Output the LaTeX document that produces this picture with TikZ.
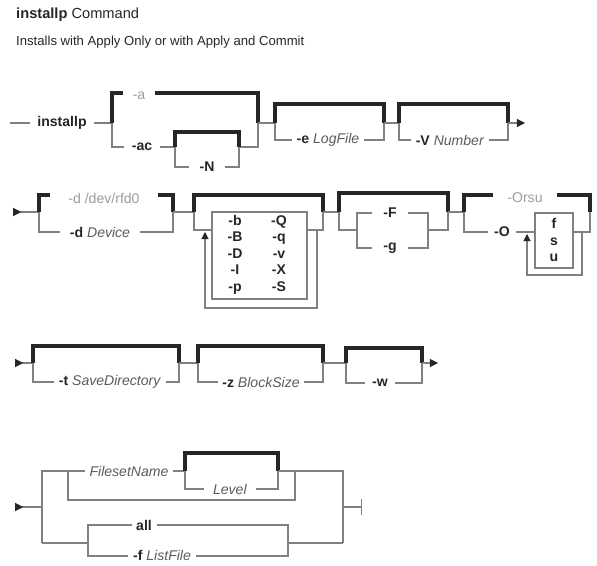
\documentclass[tikz,border=0pt]{standalone}
\usepackage{fontspec}
\setmainfont{Liberation Sans}
\usetikzlibrary{arrows.meta}
\definecolor{Ink}{HTML}{262626}
\definecolor{Rail}{HTML}{808080}
\definecolor{Hint}{HTML}{9C9C9C}
\definecolor{Arg}{HTML}{5C5C5C}
\newcommand{\flg}[1]{\textbf{#1}}
\newcommand{\prm}[1]{\textcolor{Arg}{\textit{#1}}}
\tikzset{
  rail/.style={draw=Rail, line width=0.9pt},
  heavy/.style={draw=Ink, line width=2.6pt, line join=miter},
  lbl/.style={fill=white, inner xsep=4pt, inner ysep=1pt, text=Ink,
    font=\fontsize{12}{14}\selectfont},
  hint/.style={lbl, text=Hint},
  flag/.style={inner sep=0pt, text height=8.5pt, text depth=2.5pt, text=Ink,
    font=\fontsize{12}{14}\selectfont\bfseries},
  head/.style={anchor=west, inner sep=0pt, text=Ink, font=\fontsize{11.2}{13}\selectfont},
  into/.style={rail, {Triangle[reversed,length=7pt,width=7pt,color=Ink]}-},
  onward/.style={rail, -{Triangle[length=7pt,width=7pt,color=Ink]}},
  loopback/.style={rail, -{Triangle[length=6pt,width=6pt,color=Ink]}}
}
\begin{document}
\begin{tikzpicture}[x=0.03cm,y=-0.03cm]
  \useasboundingbox (0,0) rectangle (597,565);
  \node[head, font=\fontsize{12.5}{14}\selectfont] (title) at (16,15) {\textbf{installp} Command};
  \node[head] (subtitle) at (16,42) {Installs with Apply Only or with Apply and Commit};

  % row 1
  \draw[rail] (10,123) -- (112,123);
  \node[lbl, inner xsep=6pt] (cmd) at (62,123) {\flg{installp}};
  \draw[heavy] (112,123) |- (258,93) -- (258,123);
  \node[hint, minimum width=27pt] (apply) at (139,96) {-a};
  \draw[rail] (112,123) |- (175,147);
  \draw[rail] (239,147) -| (258,123);
  \node[lbl, minimum width=30pt] (commit) at (142,147) {\flg{-ac}};
  \draw[heavy] (175,147) |- (239,132) -- (239,147);
  \draw[rail] (175,147) |- (239,167) -- (239,147);
  \node[lbl, minimum width=30pt] (noreq) at (207,167) {\flg{-N}};
  \draw[rail] (258,123) -- (275,123);
  \draw[heavy] (275,123) |- (384,104) -- (384,123);
  \draw[rail] (275,123) |- (384,140) -- (384,123);
  \node[lbl] (logfile) at (328,140) {\flg{-e} \prm{LogFile}};
  \draw[rail] (384,123) -- (399,123);
  \draw[heavy] (399,123) |- (508,104) -- (508,123);
  \draw[rail] (399,123) |- (508,140) -- (508,123);
  \node[lbl] (number) at (450,140) {\flg{-V} \prm{Number}};
  \draw[onward] (508,123) -- (525,123);

  % row 2
  \draw[into] (13,212) -- (39,212);
  \draw[heavy] (39,212) |- (173,195) -- (173,212);
  \node[hint, minimum width=92pt] (rfd) at (104,198) {-d /dev/rfd0};
  \draw[rail] (39,212) |- (173,232) -- (173,212);
  \node[lbl, minimum width=68pt] (device) at (100,232) {\flg{-d} \prm{Device}};
  \draw[rail] (173,212) -- (194,212);
  \draw[heavy] (194,212) |- (323,195) -- (323,212);
  \draw[rail] (194,212) |- (212,230);
  \draw[rail] (212,212) rectangle (307,299);
  \draw[rail] (307,230) -| (323,212);
  \draw[loopback] (317,230) |- (205,308) -- (205,232);
  \foreach \lf/\rt [count=\i] in {b/Q,B/q,D/v,I/X,p/S} {
    \node[flag] (fl\i) at (235,205+16.5*\i) {-\lf};
    \node[flag] (fr\i) at (279,205+16.5*\i) {-\rt};
  }
  \draw[rail] (323,212) -- (339,212);
  \draw[heavy] (339,212) |- (448,193) -- (448,212);
  \draw[rail] (339,212) |- (357,230);
  \draw[rail] (357,213) rectangle (428,248);
  \draw[rail] (428,230) -| (448,212);
  \node[lbl, minimum width=30pt] (force) at (390,213) {\flg{-F}};
  \node[lbl, minimum width=30pt] (group) at (390,248) {\flg{-g}};
  \draw[rail] (448,212) -- (464,212);
  \draw[heavy] (464,212) |- (590,195) -- (590,212);
  \node[hint, minimum width=54pt] (orsu) at (525,198) {-Orsu};
  \draw[rail] (464,212) |- (535,232);
  \node[lbl, minimum width=24pt] (opart) at (502,232) {\flg{-O}};
  \draw[rail] (535,213) rectangle (573,268);
  \foreach \p [count=\i] in {f,s,u} {
    \node[flag] (part\i) at (554,208.5+16.5*\i) {\p};
  }
  \draw[rail] (573,232) -| (590,212);
  \draw[loopback] (582,232) |- (527,275) -- (527,234);

  % row 3
  \draw[into] (15,363) -- (33,363);
  \draw[heavy] (33,363) |- (179,346) -- (179,363);
  \draw[rail] (33,363) |- (179,382) -- (179,363);
  \node[lbl] (savedir) at (110,382) {\flg{-t} \prm{SaveDirectory}};
  \draw[rail] (179,363) -- (198,363);
  \draw[heavy] (198,363) |- (323,346) -- (323,363);
  \draw[rail] (198,363) |- (323,382) -- (323,363);
  \node[lbl] (blocksize) at (261,382) {\flg{-z} \prm{BlockSize}};
  \draw[rail] (323,363) -- (346,363);
  \draw[heavy] (346,363) |- (422,348) -- (422,363);
  \draw[rail] (346,363) |- (422,383) -- (422,363);
  \node[lbl, minimum width=26pt] (wrap) at (380,383) {\flg{-w}};
  \draw[onward] (422,363) -- (438,363);

  % row 4
  \draw[into] (15,507) -- (42,507);
  \draw[rail] (42,543) |- (185,471);
  \node[lbl] (fileset) at (129,471) {\prm{FilesetName}};
  \draw[heavy] (185,471) |- (278,453) -- (278,471);
  \draw[rail] (185,471) |- (278,489) -- (278,471);
  \node[lbl, minimum width=44pt] (level) at (230,489) {\prm{Level}};
  \draw[rail] (278,471) -| (343,543);
  \draw[rail] (68,471) |- (295,500) -- (295,471);
  \draw[rail] (42,543) -- (88,543);
  \draw[rail] (88,525) rectangle (288,556);
  \node[lbl, minimum width=20pt] (all) at (144,525) {\flg{all}};
  \node[lbl] (listfile) at (162,555) {\flg{-f} \prm{ListFile}};
  \draw[rail] (288,543) -- (343,543);
  \draw[rail, -{Bar[width=14pt]}] (343,507) -- (362,507);
\end{tikzpicture}
\end{document}
